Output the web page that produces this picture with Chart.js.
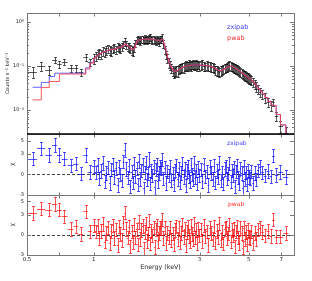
<!DOCTYPE html>
<html>
<head>
<meta charset="utf-8">
<script src="https://cdn.jsdelivr.net/npm/chart.js@4.4.0/dist/chart.umd.min.js"></script>
<style>
  html, body { margin: 0; padding: 0; background: #fff; }
  canvas { display: block; }
</style>
</head>
<body>
<canvas id="chartSpec" width="312" height="281"></canvas>
<script>
// bin centres (keV)
var energy = [
  0.53, 0.58, 0.63, 0.667, 0.70, 0.735, 0.79, 0.83, 0.874, 0.92, 0.96,
  1.00, 1.02, 1.04, 1.06, 1.08, 1.10, 1.12, 1.14, 1.16, 1.18, 1.20, 1.22, 1.24, 1.26, 1.28, 1.30, 1.32,
  1.34, 1.36, 1.38, 1.40, 1.42, 1.44, 1.46, 1.48, 1.50, 1.52, 1.54, 1.56, 1.58, 1.60, 1.62, 1.64, 1.66,
  1.68, 1.70, 1.72, 1.74, 1.76, 1.78, 1.80, 1.82, 1.84, 1.86, 1.88, 1.90, 1.92, 1.94, 1.96, 1.98,
  2.00, 2.03, 2.06, 2.09, 2.12, 2.15, 2.18, 2.21, 2.24, 2.27, 2.30, 2.33, 2.36, 2.39, 2.42, 2.45, 2.48,
  2.51, 2.54, 2.57, 2.60, 2.63, 2.66, 2.69, 2.72, 2.75, 2.78, 2.81, 2.84, 2.87, 2.90, 2.93, 2.96, 2.99,
  3.04, 3.09, 3.14, 3.19, 3.24, 3.29, 3.34, 3.39, 3.44, 3.49, 3.54, 3.59, 3.64, 3.69, 3.74, 3.79, 3.84, 3.89, 3.94, 3.99,
  4.04, 4.09, 4.14, 4.19, 4.24, 4.29, 4.34, 4.39, 4.44, 4.49, 4.54, 4.59, 4.64, 4.69, 4.74, 4.79, 4.84, 4.89, 4.94, 4.99,
  5.06, 5.14, 5.22, 5.31, 5.40, 5.50, 5.62, 5.76, 5.92, 6.10, 6.30, 6.45, 6.65, 6.95, 7.35
]

// observed spectrum (counts s-1 keV-1) and 1 sigma errors
var counts = [
  0.074, 0.10, 0.081, 0.139, 0.109, 0.125, 0.089, 0.089, 0.072, 0.157, 0.12,
  0.15, 0.17, 0.19, 0.20, 0.19, 0.22, 0.21, 0.23, 0.25, 0.23, 0.22, 0.25, 0.26, 0.24, 0.27, 0.26, 0.25,
  0.28, 0.31, 0.35, 0.30, 0.28, 0.27, 0.25, 0.23, 0.22, 0.27, 0.33, 0.38, 0.41, 0.39, 0.37, 0.41, 0.40,
  0.38, 0.42, 0.41, 0.38, 0.40, 0.42, 0.44, 0.40, 0.38, 0.41, 0.39, 0.37, 0.40, 0.38, 0.36, 0.40,
  0.41, 0.44, 0.32, 0.24, 0.18, 0.15, 0.12, 0.105, 0.09, 0.078, 0.07, 0.074, 0.079, 0.077, 0.085, 0.09, 0.088,
  0.095, 0.092, 0.10, 0.105, 0.098, 0.10, 0.11, 0.104, 0.10, 0.108, 0.112, 0.103, 0.106, 0.11, 0.102, 0.108, 0.10,
  0.106, 0.112, 0.10, 0.097, 0.105, 0.10, 0.098, 0.093, 0.095, 0.088, 0.082, 0.079, 0.076, 0.073, 0.078, 0.08, 0.085, 0.088, 0.092, 0.095,
  0.10, 0.104, 0.10, 0.098, 0.094, 0.09, 0.088, 0.084, 0.083, 0.08, 0.076, 0.072, 0.068, 0.065, 0.062, 0.06, 0.058, 0.056, 0.054, 0.052,
  0.05, 0.047, 0.043, 0.039, 0.034, 0.030, 0.026, 0.023, 0.019, 0.015, 0.0125, 0.015, 0.0072, 0.0042, 0.0030
]
var countErr = [
  0.02, 0.022, 0.02, 0.022, 0.02, 0.02, 0.015, 0.015, 0.014, 0.025, 0.02,
  0.04, 0.04, 0.045, 0.045, 0.045, 0.05, 0.05, 0.05, 0.055, 0.05, 0.05, 0.055, 0.055, 0.05, 0.055, 0.055, 0.055,
  0.06, 0.06, 0.07, 0.06, 0.06, 0.06, 0.055, 0.055, 0.05, 0.06, 0.065, 0.07, 0.075, 0.075, 0.07, 0.075, 0.075,
  0.07, 0.08, 0.075, 0.07, 0.075, 0.08, 0.08, 0.075, 0.07, 0.075, 0.075, 0.07, 0.075, 0.07, 0.07, 0.075,
  0.075, 0.08, 0.065, 0.05, 0.04, 0.035, 0.03, 0.026, 0.023, 0.02, 0.018, 0.019, 0.02, 0.02, 0.021, 0.022, 0.021,
  0.022, 0.022, 0.023, 0.024, 0.023, 0.023, 0.025, 0.024, 0.023, 0.024, 0.025, 0.024, 0.024, 0.025, 0.024, 0.024, 0.023,
  0.024, 0.025, 0.023, 0.022, 0.024, 0.023, 0.022, 0.021, 0.022, 0.02, 0.019, 0.019, 0.018, 0.018, 0.019, 0.019, 0.02, 0.02, 0.021, 0.021,
  0.022, 0.022, 0.022, 0.021, 0.021, 0.02, 0.02, 0.019, 0.019, 0.018, 0.018, 0.017, 0.016, 0.016, 0.015, 0.015, 0.014, 0.014, 0.014, 0.013,
  0.012, 0.011, 0.01, 0.009, 0.008, 0.007, 0.006, 0.0055, 0.0045, 0.0035, 0.003, 0.003, 0.0018, 0.0012, 0.001
]

// folded models
var modelZxipab = [
  0.0325, 0.042, 0.057, 0.068, 0.068, 0.068, 0.068, 0.068, 0.068, 0.09, 0.12,
  0.15, 0.165, 0.18, 0.19, 0.20, 0.21, 0.215, 0.22, 0.23, 0.23, 0.235, 0.24, 0.245, 0.25, 0.255, 0.26, 0.265,
  0.28, 0.30, 0.31, 0.29, 0.28, 0.27, 0.25, 0.24, 0.235, 0.26, 0.32, 0.37, 0.39, 0.39, 0.39, 0.40, 0.40,
  0.40, 0.405, 0.405, 0.40, 0.40, 0.405, 0.41, 0.40, 0.395, 0.395, 0.39, 0.385, 0.385, 0.38, 0.38, 0.385,
  0.39, 0.40, 0.33, 0.25, 0.19, 0.15, 0.12, 0.10, 0.088, 0.078, 0.073, 0.074, 0.077, 0.08, 0.083, 0.087, 0.09,
  0.093, 0.095, 0.097, 0.099, 0.10, 0.101, 0.102, 0.103, 0.104, 0.105, 0.105, 0.105, 0.105, 0.105, 0.105, 0.104, 0.104,
  0.104, 0.103, 0.102, 0.101, 0.100, 0.099, 0.097, 0.095, 0.092, 0.089, 0.085, 0.081, 0.078, 0.077, 0.078, 0.080, 0.083, 0.087, 0.091, 0.094,
  0.097, 0.098, 0.098, 0.096, 0.093, 0.090, 0.087, 0.084, 0.081, 0.078, 0.075, 0.072, 0.069, 0.066, 0.063, 0.061, 0.058, 0.056, 0.054, 0.052,
  0.0495, 0.046, 0.0425, 0.0385, 0.0345, 0.0305, 0.0265, 0.0228, 0.019, 0.0155, 0.0128, 0.0125, 0.0078, 0.0045, 0.0024
]
var modelPwab = [
  0.0168, 0.032, 0.044, 0.044, 0.065, 0.065, 0.065, 0.065, 0.065, 0.085, 0.115,
  0.15, 0.165, 0.18, 0.19, 0.20, 0.21, 0.215, 0.22, 0.23, 0.235, 0.235, 0.24, 0.245, 0.25, 0.255, 0.26, 0.265,
  0.28, 0.30, 0.315, 0.29, 0.28, 0.27, 0.25, 0.24, 0.235, 0.26, 0.32, 0.37, 0.39, 0.39, 0.39, 0.40, 0.40,
  0.40, 0.405, 0.405, 0.40, 0.40, 0.41, 0.415, 0.40, 0.395, 0.395, 0.39, 0.385, 0.385, 0.38, 0.38, 0.385,
  0.39, 0.40, 0.33, 0.25, 0.19, 0.15, 0.12, 0.10, 0.089, 0.079, 0.073, 0.074, 0.077, 0.08, 0.083, 0.087, 0.09,
  0.093, 0.095, 0.097, 0.099, 0.10, 0.101, 0.102, 0.103, 0.104, 0.105, 0.105, 0.105, 0.105, 0.105, 0.105, 0.104, 0.104,
  0.104, 0.103, 0.102, 0.101, 0.100, 0.099, 0.097, 0.095, 0.092, 0.089, 0.085, 0.081, 0.078, 0.077, 0.078, 0.080, 0.083, 0.087, 0.091, 0.094,
  0.097, 0.098, 0.098, 0.096, 0.093, 0.090, 0.087, 0.084, 0.081, 0.078, 0.075, 0.072, 0.069, 0.066, 0.063, 0.061, 0.058, 0.056, 0.054, 0.052,
  0.0495, 0.046, 0.0425, 0.0385, 0.0345, 0.0305, 0.0265, 0.0228, 0.019, 0.0155, 0.0128, 0.0125, 0.0078, 0.0045, 0.0024
]

// residuals (sigma)
var residZxipab = [
  2.35, 3.85, 2.85, 4.35, 2.85, 2.35, 1.35, 1.6, 0.1, 2.85, 0.35,
  1.2, 0.3, 1.4, -0.6, 0.5, 1.7, -1.1, 0.2, 1.0, -1.3, 0.7, 1.5, -0.4, 0.9, -1.6, 1.1, 0.0,
  -0.9, 1.9, 3.6, 0.8, -0.5, 1.3, -1.8, 0.4, -1.2, 1.6, -0.3, 0.9, -1.5, 2.0, -0.7, 0.6, 1.4,
  -2.1, 0.3, 1.8, -0.8, 0.1, 2.3, -1.4, 0.5, -0.2, 1.2, -1.9, 0.7, 1.5, -1.0, 0.2, 1.1,
  0.9, 2.2, -0.6, 1.0, -1.3, 0.4, -0.2, 1.2, -0.9, 0.1, -1.5, 0.6, 1.3, -0.7, 0.9, -1.2, 0.2,
  1.6, -0.4, 0.8, -1.7, 0.5, 1.1, -0.3, -1.1, 1.4, 0.0, -0.8, 1.7, -0.5, 0.6, -1.4, 1.0, -0.2,
  0.7, -1.0, 1.5, -0.3, 0.4, -1.6, 1.1, 0.2, -0.7, 1.3, -1.2, 0.5, -0.4, 1.8, -0.9, 0.3, -1.4, 0.8, 1.2, -0.6,
  0.1, 1.6, -1.1, 0.6, -0.2, 1.0, -1.8, 0.4, 1.3, -0.5, -1.3, 0.9, 0.2, -2.0, 1.1, -0.7, 0.3, -1.5, 0.6, -0.4,
  -0.6, 0.4, -1.3, 0.2, -0.8, 0.6, 1.1, 0.3, -0.2, 0.5, -0.3, 2.8, -0.1, 0.35, -0.4
]
var residPwab = [
  3.25, 3.9, 3.75, 4.6, 3.75, 2.75, 0.9, 1.25, 0.15, 3.5, 0.5,
  1.4, 0.5, 1.3, -0.5, 0.6, 1.6, -1.0, 0.3, 1.1, -1.2, 0.6, 1.4, -0.5, 0.8, -1.5, 1.2, 0.1,
  -0.8, 1.8, 3.3, 0.9, -0.4, 1.2, -1.7, 0.5, -1.1, 1.5, -0.4, 0.8, -1.4, 1.9, -0.6, 0.7, 1.3,
  -2.0, 0.4, 1.7, -0.9, 0.2, 2.1, -1.3, 0.6, -0.1, 1.1, -1.8, 0.8, 1.4, -0.9, 0.3, 1.0,
  1.0, 2.3, -0.5, 1.1, -1.2, 0.3, -0.3, 1.1, -0.8, 0.2, -1.4, 0.7, 1.2, -0.6, 1.0, -1.1, 0.3,
  1.5, -0.3, 0.9, -1.6, 0.4, 1.2, -0.2, -1.0, 1.3, 0.1, -0.7, 1.6, -0.4, 0.7, -1.3, 0.9, -0.1,
  0.8, -0.9, 1.4, -0.2, 0.5, -1.5, 1.0, 0.3, -0.6, 1.2, -1.1, 0.6, -0.3, 1.7, -0.8, 0.4, -1.3, 0.9, 1.1, -0.5,
  0.2, 1.5, -1.0, 0.7, -0.1, 0.9, -1.7, 0.5, 1.2, -0.4, -1.2, 1.0, 0.3, -1.9, 1.0, -0.6, 0.4, -1.4, 0.7, -0.3,
  -0.5, 0.5, -1.2, 0.3, -0.6, 0.8, 1.0, 0.4, -0.1, 0.6, -0.2, 2.25, -0.25, -0.25, 0.3
]

// axis ticks
var xTicks = [0.5, 0.7, 1, 3, 5, 7]
var xTickLabels = ['0.5', '', '1', '3', '5', '7']
var yTopTicks = [0.01, 0.1, 1]
var yTopTickLabels = ['10\u207B\u00B2', '10\u207B\u00B9', '10\u2070']
var residTicks = [-3, 0, 3, 5]
var residTickLabels = ['-3', '0', '3', '5']

Chart.defaults.font.family = "'DejaVu Sans', sans-serif"
Chart.defaults.color = '#222'

// bin edges halfway between neighbouring centres
function binLo(i) {
    return i > 0 ? (energy[i - 1] + energy[i]) / 2 : energy[0] - (energy[1] - energy[0]) / 2
}
function binHi(i) {
    var n = energy.length
    return i < n - 1 ? (energy[i] + energy[i + 1]) / 2 : energy[n - 1] + (energy[n - 1] - energy[n - 2]) / 2
}

function withErrors(values, errors) {
    return energy.map(function (e, i) {
        var err = Array.isArray(errors) ? errors[i] : errors
        return { x: e, y: values[i], xMin: binLo(i), xMax: binHi(i), yMin: values[i] - err, yMax: values[i] + err }
    })
}
function steps(values) {
    return energy.map(function (e, i) { return { x: e, y: values[i] } })
}

// clip each dataset to its own panel and draw its error crosses
var errorBars = {
    id: 'errorBars',
    beforeDatasetDraw: function (chart, args) {
        var ys = args.meta.yScale, area = chart.chartArea, ctx = chart.ctx
        ctx.save()
        ctx.beginPath()
        ctx.rect(area.left, ys.top, area.right - area.left, ys.bottom - ys.top)
        ctx.clip()
    },
    afterDatasetDraw: function (chart, args) {
        var ds = chart.data.datasets[args.index]
        var ctx = chart.ctx
        if (ds.errorColor) {
            var xs = args.meta.xScale, ys = args.meta.yScale
            ctx.strokeStyle = ds.errorColor
            ctx.lineWidth = 1
            ds.data.forEach(function (p) {
                var px = Math.round(xs.getPixelForValue(p.x)) + 0.5
                var py = Math.round(ys.getPixelForValue(p.y)) + 0.5
                var lo = ys.type === 'logarithmic' ? Math.max(p.yMin, ys.min * 0.5) : p.yMin
                var y0 = Math.round(ys.getPixelForValue(lo)) + 0.5
                var y1 = Math.round(ys.getPixelForValue(p.yMax)) + 0.5
                ctx.beginPath()
                ctx.moveTo(xs.getPixelForValue(p.xMin), py)
                ctx.lineTo(xs.getPixelForValue(p.xMax), py)
                ctx.moveTo(px, y0)
                ctx.lineTo(px, y1)
                ctx.moveTo(px - 1.5, y0)
                ctx.lineTo(px + 1.5, y0)
                ctx.moveTo(px - 1.5, y1)
                ctx.lineTo(px + 1.5, y1)
                ctx.stroke()
            })
        }
        ctx.restore()
    }
}

// panel frames, inward ticks, zero lines and labels
var panels = {
    id: 'panels',
    beforeDatasetsDraw: function (chart) {
        var ctx = chart.ctx, area = chart.chartArea
        ctx.save()
        ctx.strokeStyle = '#444'
        ctx.lineWidth = 1
        ctx.setLineDash([3, 2])
        ;['yMid', 'yBot'].forEach(function (id) {
            var y = Math.round(chart.scales[id].getPixelForValue(0)) + 0.5
            ctx.beginPath()
            ctx.moveTo(area.left, y)
            ctx.lineTo(area.right, y)
            ctx.stroke()
        })
        ctx.restore()
    },
    afterDraw: function (chart, args, opts) {
        var ctx = chart.ctx, area = chart.chartArea, xs = chart.scales.x
        ctx.save()
        ctx.lineWidth = 1
        ctx.strokeStyle = '#777'
        ;['yTop', 'yMid', 'yBot'].forEach(function (id) {
            var s = chart.scales[id]
            var top = Math.round(s.top) + 0.5, bottom = Math.round(s.bottom) + 0.5
            ctx.strokeRect(Math.round(area.left) + 0.5, top, Math.round(area.right - area.left), bottom - top)
            ctx.beginPath()
            s.ticks.forEach(function (t) {
                var len = t.label ? 4 : 2
                var y = Math.round(s.getPixelForValue(t.value)) + 0.5
                ctx.moveTo(area.left, y)
                ctx.lineTo(area.left + len, y)
                ctx.moveTo(area.right, y)
                ctx.lineTo(area.right - len, y)
            })
            xs.ticks.forEach(function (t) {
                var x = Math.round(xs.getPixelForValue(t.value)) + 0.5
                ctx.moveTo(x, top)
                ctx.lineTo(x, top + 3)
                ctx.moveTo(x, bottom)
                ctx.lineTo(x, bottom - 3)
            })
            ctx.stroke()
        })
        // dark line under the spectrum panel
        ctx.strokeStyle = '#000'
        ctx.lineWidth = 1.5
        ctx.beginPath()
        ctx.moveTo(area.left, chart.scales.yTop.bottom)
        ctx.lineTo(area.right, chart.scales.yTop.bottom)
        ctx.stroke()

        ctx.textBaseline = 'middle'
        ctx.textAlign = 'left'
        opts.labels.forEach(function (l) {
            ctx.fillStyle = l.color
            ctx.font = l.size + "px 'DejaVu Sans'"
            ctx.fillText(l.text, area.left + l.dx, chart.scales[l.scale].top + l.dy)
        })
        ctx.restore()
    }
}

function residScale(weight) {
    return {
        type: 'linear',
        position: 'left',
        stack: 'panels',
        stackWeight: 1,
        weight: weight,
        min: -3,
        max: 6,
        border: { display: false },
        grid: { display: false, drawTicks: false },
        afterBuildTicks: function (scale) {
            scale.ticks = residTicks.map(function (v) { return { value: v } })
        },
        afterFit: function (scale) { scale.width = 27 },
        ticks: {
            autoSkip: false,
            padding: 3,
            font: { size: 5 },
            callback: function (v) { return residTickLabels[residTicks.indexOf(v)] }
        },
        title: { display: true, text: '\u03C7', font: { size: 6 }, padding: { top: 9, bottom: 0 }, color: '#222' }
    }
}

var chartSpec = new Chart(document.getElementById('chartSpec'), {
    type: 'line',
    plugins: [errorBars, panels],
    data: {
        datasets: [{
            label: 'pwab',
            data: steps(modelPwab),
            yAxisID: 'yTop',
            stepped: true,
            borderColor: 'rgba(255, 60, 60, 0.85)',
            borderWidth: 1,
            pointRadius: 0
        }, {
            label: 'zxipab',
            data: steps(modelZxipab),
            yAxisID: 'yTop',
            stepped: true,
            borderColor: 'rgba(70, 70, 255, 0.85)',
            borderWidth: 1,
            pointRadius: 0
        }, {
            label: 'data',
            data: withErrors(counts, countErr),
            yAxisID: 'yTop',
            showLine: false,
            pointRadius: 0,
            errorColor: 'rgba(0, 0, 0, 0.65)'
        }, {
            label: 'zxipab residuals',
            data: withErrors(residZxipab, 1),
            yAxisID: 'yMid',
            showLine: false,
            pointRadius: 0,
            errorColor: 'rgba(0, 0, 255, 0.68)'
        }, {
            label: 'pwab residuals',
            data: withErrors(residPwab, 1),
            yAxisID: 'yBot',
            showLine: false,
            pointRadius: 0,
            errorColor: 'rgba(255, 0, 0, 0.68)'
        }]
    },

    options: {
        responsive: false,
        animation: false,
        devicePixelRatio: 1,
        layout: { padding: { top: 13, right: 18, left: 0, bottom: 0 } },
        plugins: {
            legend: { display: false },
            tooltip: { enabled: false },
            panels: {
                labels: [
                    { scale: 'yTop', text: 'zxipab', color: '#3b3bff', size: 6.5, dx: 200, dy: 14 },
                    { scale: 'yTop', text: 'pwab', color: '#ff2b2b', size: 6.5, dx: 200, dy: 25 },
                    { scale: 'yMid', text: 'zxipab', color: '#3b3bff', size: 6, dx: 200, dy: 9 },
                    { scale: 'yBot', text: 'pwab', color: '#ff2b2b', size: 6, dx: 201, dy: 10 }
                ]
            }
        },

        scales: {
            x: {
                type: 'logarithmic',
                position: 'bottom',
                min: 0.5,
                max: 8,
                border: { display: false },
                grid: { display: false, drawTicks: false },
                afterBuildTicks: function (scale) {
                    scale.ticks = xTicks.map(function (v) { return { value: v } })
                },
                afterFit: function (scale) { scale.height = 26 },
                ticks: {
                    autoSkip: false,
                    maxRotation: 0,
                    padding: 1,
                    font: { size: 5.5 },
                    callback: function (v) { return xTickLabels[xTicks.indexOf(v)] }
                },
                title: { display: true, text: 'Energy (keV)', font: { size: 6.3 }, padding: { top: 0, bottom: 10 }, color: '#222' }
            },
            yBot: residScale(1),
            yMid: residScale(2),
            yTop: {
                type: 'logarithmic',
                position: 'left',
                stack: 'panels',
                stackWeight: 2,
                weight: 3,
                min: 0.0028,
                max: 1.6,
                border: { display: false },
                grid: { display: false, drawTicks: false },
                afterBuildTicks: function (scale) {
                    var t = []
                    yTopTicks.forEach(function (d) {
                        for (var k = 1; k < 10; k++) {
                            if (d * k >= scale.min && d * k <= scale.max) t.push({ value: d * k })
                        }
                    })
                    t.push({ value: 0.003 }, { value: 0.004 }, { value: 0.005 }, { value: 0.006 }, { value: 0.007 }, { value: 0.008 }, { value: 0.009 })
                    scale.ticks = t
                },
                afterFit: function (scale) { scale.width = 27 },
                ticks: {
                    autoSkip: false,
                    padding: 3,
                    font: { size: 5 },
                    callback: function (v) {
                        var i = yTopTicks.findIndex(function (d) { return Math.abs(d - v) < d * 1e-6 })
                        return i >= 0 ? yTopTickLabels[i] : ''
                    }
                },
                title: { display: true, text: 'Counts s\u207B\u00B9 keV\u207B\u00B9', font: { size: 5 }, padding: { top: 5, bottom: 0 }, color: '#222' }
            }
        }
    }
})
</script>
</body>
</html>
